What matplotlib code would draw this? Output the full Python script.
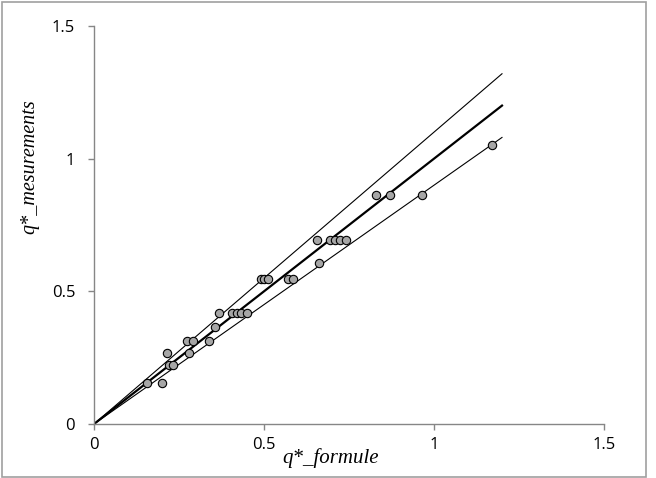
import matplotlib.pyplot as plt
from matplotlib.patches import Rectangle

q_formule = [0.157, 0.201, 0.216, 0.220, 0.231, 0.278, 0.274, 0.291, 0.337, 0.355,
             0.368, 0.405, 0.420, 0.432, 0.449, 0.490, 0.500, 0.513, 0.571, 0.585,
             0.655, 0.662, 0.694, 0.709, 0.724, 0.740, 0.829, 0.871, 0.965, 1.171]
q_mesure = [0.153, 0.153, 0.268, 0.222, 0.222, 0.268, 0.312, 0.312, 0.312, 0.366,
            0.420, 0.420, 0.420, 0.420, 0.420, 0.547, 0.547, 0.547, 0.547, 0.547,
            0.692, 0.607, 0.692, 0.692, 0.692, 0.692, 0.863, 0.863, 0.863, 1.053]

line_x = [0, 1.2]
slopes = [1.0, 1.1, 0.9]
widths = [1.6, 0.8, 0.8]
ticks = [0, 0.5, 1, 1.5]
tick_labels = ['0', '0.5', '1', '1.5']

W, H = 656, 478
fig = plt.figure(figsize=(W / 100, H / 100), dpi=100)
ax = fig.add_axes([94 / W, 1 - 424 / H, 510 / W, 398 / H])

for k, lw in zip(slopes, widths):
    ax.plot(line_x, [k * v for v in line_x], color='black', lw=lw, zorder=2)

ax.plot(q_formule, q_mesure, 'o', ms=6, mfc='#a6a6a6', mec='black', mew=0.8,
        zorder=3, clip_on=False)

ax.set_xlim(0, 1.5)
ax.set_ylim(0, 1.5)
ax.set_xticks(ticks)
ax.set_yticks(ticks)
ax.set_xticklabels(tick_labels)
ax.set_yticklabels(tick_labels)

for lab in ax.get_xticklabels() + ax.get_yticklabels():
    lab.set_fontfamily('Open Sans')
    lab.set_fontsize(12)

for s in ('top', 'right'):
    ax.spines[s].set_visible(False)
for s in ('left', 'bottom'):
    ax.spines[s].set_color('#868686')
    ax.spines[s].set_linewidth(1)
ax.tick_params(direction='out', length=4.5, width=1, color='#868686',
               labelcolor='black')
ax.tick_params(axis='y', pad=9)
ax.tick_params(axis='x', pad=5)

fig.text(331 / W, 1 - 458 / H, 'q*_formule', family='Liberation Serif',
         style='italic', fontsize=15, ha='center', va='center')
fig.text(30 / W, 1 - 167 / H, 'q*_mesurements', family='Liberation Serif',
         style='italic', fontsize=14.5, ha='center', va='center', rotation=90)

fig.patches.append(Rectangle((1.5 / W, 1.5 / H), 644 / W, 475 / H,
                             transform=fig.transFigure, fill=False,
                             edgecolor='#a0a0a0', lw=1.2))

fig.savefig('out.png', dpi=100)
